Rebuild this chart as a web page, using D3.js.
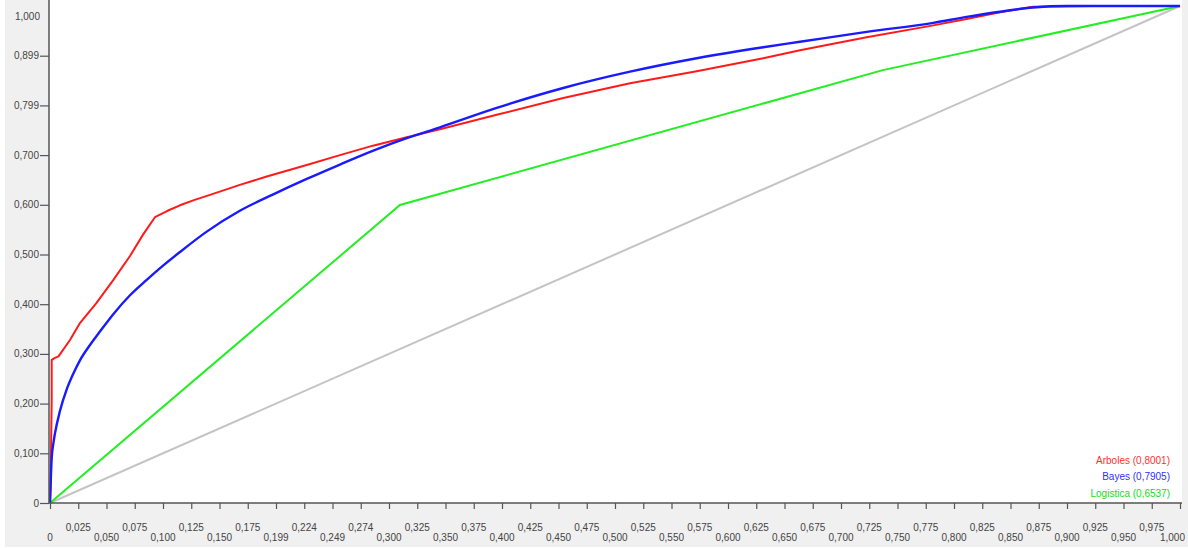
<!DOCTYPE html>
<html>
<head>
<meta charset="utf-8">
<script src="https://cdn.jsdelivr.net/npm/d3@7/dist/d3.min.js"></script>
<style>
  html, body { margin: 0; padding: 0; background: #ffffff; }
  svg { display: block; font-family: "Liberation Sans", Arial, sans-serif; }
</style>
</head>
<body>
<svg id="chart" width="1188" height="548"></svg>
<script>
// ROC curves: [false positive rate, true positive rate]
const arboles = [
  [0, 0], [0.0005, 0.03], [0.001, 0.12], [0.0015, 0.21], [0.0015, 0.288],
  [0.0044, 0.292], [0.0075, 0.295], [0.0177, 0.328], [0.0265, 0.362],
  [0.041, 0.402], [0.0561, 0.449], [0.0708, 0.497], [0.0826, 0.541],
  [0.0929, 0.575], [0.104, 0.588], [0.115, 0.599], [0.128, 0.610],
  [0.1416, 0.620], [0.168, 0.640],
  [0.1918, 0.657], [0.2272, 0.680], [0.2566, 0.700], [0.2858, 0.719],
  [0.3157, 0.736], [0.3451, 0.752], [0.3953, 0.781], [0.4542, 0.815],
  [0.5133, 0.8445], [0.5723, 0.8685], [0.6312, 0.8948], [0.6637, 0.9110],
  [0.7227, 0.937], [0.7817, 0.961], [0.8112, 0.974], [0.8407, 0.9875],
  [0.87, 0.9986], [0.922, 1.0], [1, 1]
];
const bayes = [
  [0, 0], [0.0015, 0.09], [0.003, 0.12], [0.0044, 0.14], [0.0088, 0.185],
  [0.0147, 0.228], [0.0206, 0.26], [0.0265, 0.287], [0.0354, 0.318],
  [0.0442, 0.345], [0.056, 0.380], [0.0708, 0.418], [0.0856, 0.449],
  [0.1003, 0.478], [0.115, 0.505], [0.1387, 0.546], [0.168, 0.588],
  [0.1976, 0.621], [0.2272, 0.652], [0.2566, 0.681], [0.2861, 0.709],
  [0.3157, 0.734], [0.3451, 0.756], [0.3953, 0.795], [0.4542, 0.835],
  [0.5133, 0.8678], [0.5723, 0.8948], [0.6312, 0.917], [0.6637, 0.928],
  [0.7227, 0.948], [0.7817, 0.966], [0.8112, 0.978], [0.8407, 0.9885],
  [0.87, 0.997], [0.90, 1.0], [1, 1]
];
const logistica = [[0, 0], [0.3097, 0.5996], [0.737, 0.871], [1, 1]];
const diagonal = [[0, 0], [1, 1]];

const legendLabels = ["Arboles (0,8001)", "Bayes (0,7905)", "Logistica (0,6537)"];

const yTickValues = [0, 0.1, 0.2, 0.3, 0.4, 0.5, 0.6, 0.7, 0.8, 0.9, 1.0];
const yTickLabels = ["0", "0,100", "0,200", "0,300", "0,400", "0,500",
                     "0,600", "0,700", "0,799", "0,899", "1,000"];
const xTickLabels = ["0", "0,025", "0,050", "0,075", "0,100", "0,125", "0,150",
  "0,175", "0,199", "0,224", "0,249", "0,274", "0,300", "0,325", "0,350",
  "0,375", "0,400", "0,425", "0,450", "0,475", "0,500", "0,525", "0,550",
  "0,575", "0,600", "0,625", "0,650", "0,675", "0,700", "0,725", "0,750",
  "0,775", "0,800", "0,825", "0,850", "0,875", "0,900", "0,925", "0,950",
  "0,975", "1,000"];

const svg = d3.select("#chart");

const plot = { left: 49, right: 1182, top: 0, bottom: 503 };
const x = d3.scaleLinear().domain([0, 1]).range([50, 1180]);
const y = d3.scaleLinear().domain([0, 1]).range([503, 6]);

// panel background and white plotting area
svg.append("rect").attr("x", 5).attr("y", 0).attr("width", 1183).attr("height", 547)
  .attr("fill", "#f0f0f0");
svg.append("rect").attr("x", plot.left).attr("y", plot.top)
  .attr("width", plot.right - plot.left).attr("height", plot.bottom - plot.top)
  .attr("fill", "#ffffff");

svg.append("clipPath").attr("id", "plotclip").append("rect")
  .attr("x", plot.left).attr("y", plot.top)
  .attr("width", plot.right - plot.left).attr("height", plot.bottom - plot.top + 1);

const line = d3.line().x(d => x(d[0])).y(d => y(d[1]));
const smoothLine = d3.line().x(d => x(d[0])).y(d => y(d[1])).curve(d3.curveMonotoneX);
const curves = svg.append("g").attr("clip-path", "url(#plotclip)");

curves.append("path").datum(diagonal).attr("d", line)
  .attr("fill", "none").attr("stroke", "#c4c4c4").attr("stroke-width", 2);
curves.append("path").datum(logistica).attr("d", line)
  .attr("fill", "none").attr("stroke", "#22ee22").attr("stroke-width", 2);
curves.append("path").datum(arboles).attr("d", line)
  .attr("fill", "none").attr("stroke", "#ff1a1a").attr("stroke-width", 2)
  .attr("stroke-linejoin", "round");
curves.append("path").datum(bayes).attr("d", smoothLine)
  .attr("fill", "none").attr("stroke", "#1a1aff").attr("stroke-width", 2.4)
  .attr("stroke-linejoin", "round");

// axes
const axisColor = "#555555";
const labelColor = "#444444";

const xAxis = d3.axisBottom(x)
  .tickValues(d3.range(xTickLabels.length).map(i => i / (xTickLabels.length - 1)))
  .tickSize(6).tickSizeOuter(0).tickFormat("");
const gx = svg.append("g").attr("transform", `translate(0,${plot.bottom})`).call(xAxis);
gx.select(".domain").remove();
gx.selectAll(".tick line").attr("stroke", axisColor).attr("stroke-width", 1.2);
gx.append("line").attr("x1", plot.left).attr("x2", plot.right).attr("y1", 0).attr("y2", 0)
  .attr("stroke", axisColor).attr("stroke-width", 1.5);

xTickLabels.forEach((lab, i) => {
  const v = i / (xTickLabels.length - 1);
  const last = i === xTickLabels.length - 1;
  svg.append("text")
    .attr("x", last ? 1185 : x(v))
    .attr("y", i % 2 === 0 ? 541 : 531)
    .attr("text-anchor", last ? "end" : "middle")
    .attr("font-size", 10).attr("fill", labelColor)
    .text(lab);
});

const yAxis = d3.axisLeft(y).tickValues(yTickValues.slice(0, -1))
  .tickSize(9).tickSizeOuter(0).tickFormat("");
const gy = svg.append("g").attr("transform", `translate(${plot.left},0)`).call(yAxis);
gy.select(".domain").remove();
gy.selectAll(".tick line").attr("stroke", axisColor).attr("stroke-width", 1.2);
gy.append("line").attr("x1", 0).attr("x2", 0).attr("y1", 0).attr("y2", plot.bottom)
  .attr("stroke", axisColor).attr("stroke-width", 1.5);

yTickValues.forEach((v, i) => {
  const top = i === yTickValues.length - 1;
  svg.append("text")
    .attr("x", top ? 40 : 39)
    .attr("y", top ? 16 : y(v))
    .attr("dy", "0.35em")
    .attr("text-anchor", "end")
    .attr("font-size", 10).attr("fill", labelColor)
    .text(yTickLabels[i]);
});

// legend with AUC values
const legendColors = ["#ff3030", "#3030ff", "#11dd11"];
legendLabels.forEach((lab, i) => {
  svg.append("text")
    .attr("x", 1170).attr("y", 460 + i * 16.5).attr("dy", "0.35em")
    .attr("text-anchor", "end").attr("font-size", 10)
    .attr("fill", legendColors[i]).text(lab);
});
</script>
</body>
</html>
